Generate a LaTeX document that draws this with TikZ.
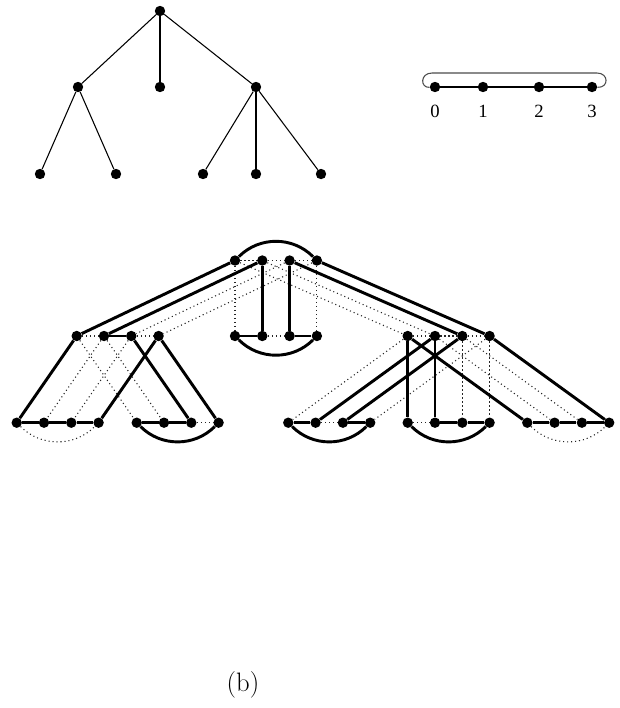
\documentclass[tikz,border=0pt]{standalone}
\usepackage{fontspec}
\newfontfamily\labelfont{Liberation Serif}
\usetikzlibrary{positioning}

\tikzset{
  dot/.style={circle,fill=black,inner sep=0pt,minimum size=7.8pt},
  treeedge/.style={line width=0.8pt},
  cycleedge/.style={line width=2.2pt},
  spareedge/.style={line width=0.8pt,black!85,dash pattern=on 0.8pt off 2.2pt},
  numlabel/.style={inner sep=0pt,font=\labelfont\fontsize{14}{16}\selectfont},
  archdown/.style={out=-45,in=-135},
  archup/.style={out=45,in=135},
}

\begin{document}
\begin{tikzpicture}[x=0.75pt,y=-0.75pt]
\useasboundingbox (0,0) rectangle (619,708);

% Arbre
\begin{scope}

\node[dot] (root) at (160,11) {};
\node[dot] (left) at (78,87) {};
\node[dot] (mid) at (160,87) {};
\node[dot] (right) at (256,87) {};
\node[dot] (ll) at (40,174) {};
\node[dot] (lr) at (116,174) {};
\node[dot] (rl) at (203,174) {};
\node[dot] (rm) at (256,174) {};
\node[dot] (rr) at (321,174) {};

\draw[treeedge] (root) -- (left);
\draw[treeedge] (root) -- (mid);
\draw[treeedge] (root) -- (right);
\draw[treeedge] (left) -- (ll);
\draw[treeedge] (left) -- (lr);
\draw[treeedge] (right) -- (rl);
\draw[treeedge] (right) -- (rm);
\draw[treeedge] (right) -- (rr);

\end{scope}

% Cycle
\begin{scope}

\foreach \i/\x in {0/435,1/483,2/539,3/592}
  \node[dot] (k\i) at (\x,87) {};

\foreach \i in {0,...,3}
  \node[numlabel,below=9pt of k\i] (n\i) {\i};

\draw[treeedge] (k0) -- (k1) -- (k2) -- (k3);
\draw[treeedge,black!70]
(k0)
.. controls (420,88) and (420,73) .. (432,73)
--
(597,73)
.. controls (609,73) and (609,88) .. (k3);

\end{scope}

% Produit
\begin{scope}

\foreach \name/\x/\y in {r/235/260.5, m/235/336, l/76.7/336, q/407.7/336,
    la/16.7/422.7, lb/136.7/422.7, qa/288.3/422.7, qb/407.7/422.7, qc/527.3/422.7}
  \foreach \i in {0,...,3}
    \node[dot] (\name\i) at ({\x+27.3*\i},\y) {};

% aretes en pointilles
\foreach \a/\b in {r0/r1, r1/r2, r2/r3, r0/m0, r3/m3, r2/l2, r3/l3, r0/q0, r1/q1,
    m1/m2, l0/l1, l2/l3, l1/la1, l2/la2, l0/lb0, l1/lb1, lb2/lb3,
    q0/q1, q1/q2, q2/q3, q0/qa0, q3/qa3, q2/qb2, q3/qb3, q1/qc1, q2/qc2,
    qa1/qa2, qb0/qb1}
  \draw[spareedge] (\a) -- (\b);

\draw[spareedge] (la0) to[archdown] (la3);
\draw[spareedge] (qc0) to[archdown] (qc3);

% cycle hamiltonien
\foreach \a/\b in {r0/l0, r1/l1, r1/m1, r2/m2, r2/q2, r3/q3,
    m0/m1, m2/m3, l1/l2, l0/la0, l3/la3, l2/lb2, l3/lb3,
    la0/la1, la1/la2, la2/la3, lb0/lb1, lb1/lb2,
    q0/qb0, q1/qb1, q1/qa1, q2/qa2, q0/qc0, q3/qc3,
    qa0/qa1, qa2/qa3, qb1/qb2, qb2/qb3, qc0/qc1, qc1/qc2, qc2/qc3}
  \draw[cycleedge] (\a) -- (\b);

\draw[cycleedge] (r0) to[archup] (r3);
\draw[cycleedge] (m0) to[archdown] (m3);
\draw[cycleedge] (lb0) to[archdown] (lb3);
\draw[cycleedge] (qa0) to[archdown] (qa3);
\draw[cycleedge] (qb0) to[archdown] (qb3);

\end{scope}

\node[font=\fontsize{20}{24}\selectfont] (caption) at (243,685) {(b)};

\end{tikzpicture}
\end{document}
